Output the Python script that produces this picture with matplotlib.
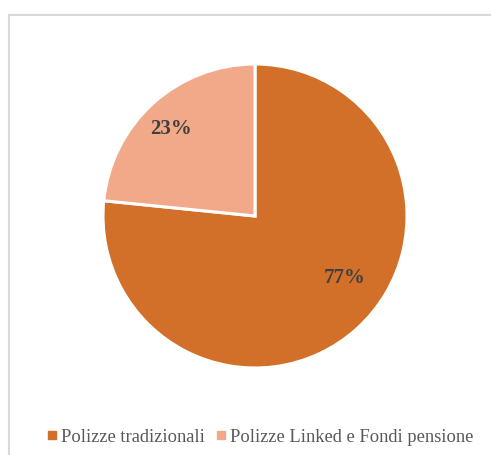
import matplotlib
matplotlib.use("Agg")
import matplotlib.pyplot as plt
from matplotlib.patches import Rectangle
from matplotlib.lines import Line2D

categories = ["Polizze tradizionali", "Polizze Linked e Fondi pensione"]
values = [76.6, 23.4]
colors = ["#D2702A", "#F2A98A"]

plt.rcParams['font.family'] = ['Liberation Serif', 'DejaVu Serif']

W, H = 491, 455
fig = plt.figure(figsize=(W/100, H/100), dpi=100)
fig.patch.set_facecolor("white")

# outer frame
fig.add_artist(Rectangle((8.5/W, -0.1), 1.2, (H-14.5)/H + 0.1, transform=fig.transFigure,
                         fill=False, edgecolor="#D9D9D9", linewidth=1.5))

cx, cy, r = 255, 216, 152
ax = fig.add_axes([(cx-r)/W, (H-cy-r)/H, 2*r/W, 2*r/H])
wedges, texts, autotexts = ax.pie(values, colors=colors, startangle=90, counterclock=False,
                                  autopct=lambda p: f"{p:.0f}%",
                                  wedgeprops=dict(edgecolor="white", linewidth=2.2),
                                  textprops=dict(color="#404040", fontsize=15, fontweight="bold"))
label_pos = [(0.59, -0.41), (-0.55, 0.57)]
for t, pos in zip(autotexts, label_pos):
    t.set_position(pos)
ax.set_xlim(-1, 1)
ax.set_ylim(-1, 1)
ax.set_aspect("equal")

handles = [Line2D([0], [0], marker="s", linestyle="none", markersize=5.5,
                  markerfacecolor=c, markeredgecolor=c) for c in colors]
fig.legend(handles, categories, loc="center", bbox_to_anchor=(0.527, (H-437)/H),
           ncol=2, frameon=False, fontsize=13.3, labelcolor="#595959",
           handletextpad=0.1, columnspacing=0.45, handlelength=0.8)

fig.savefig("out.png", dpi=100)
